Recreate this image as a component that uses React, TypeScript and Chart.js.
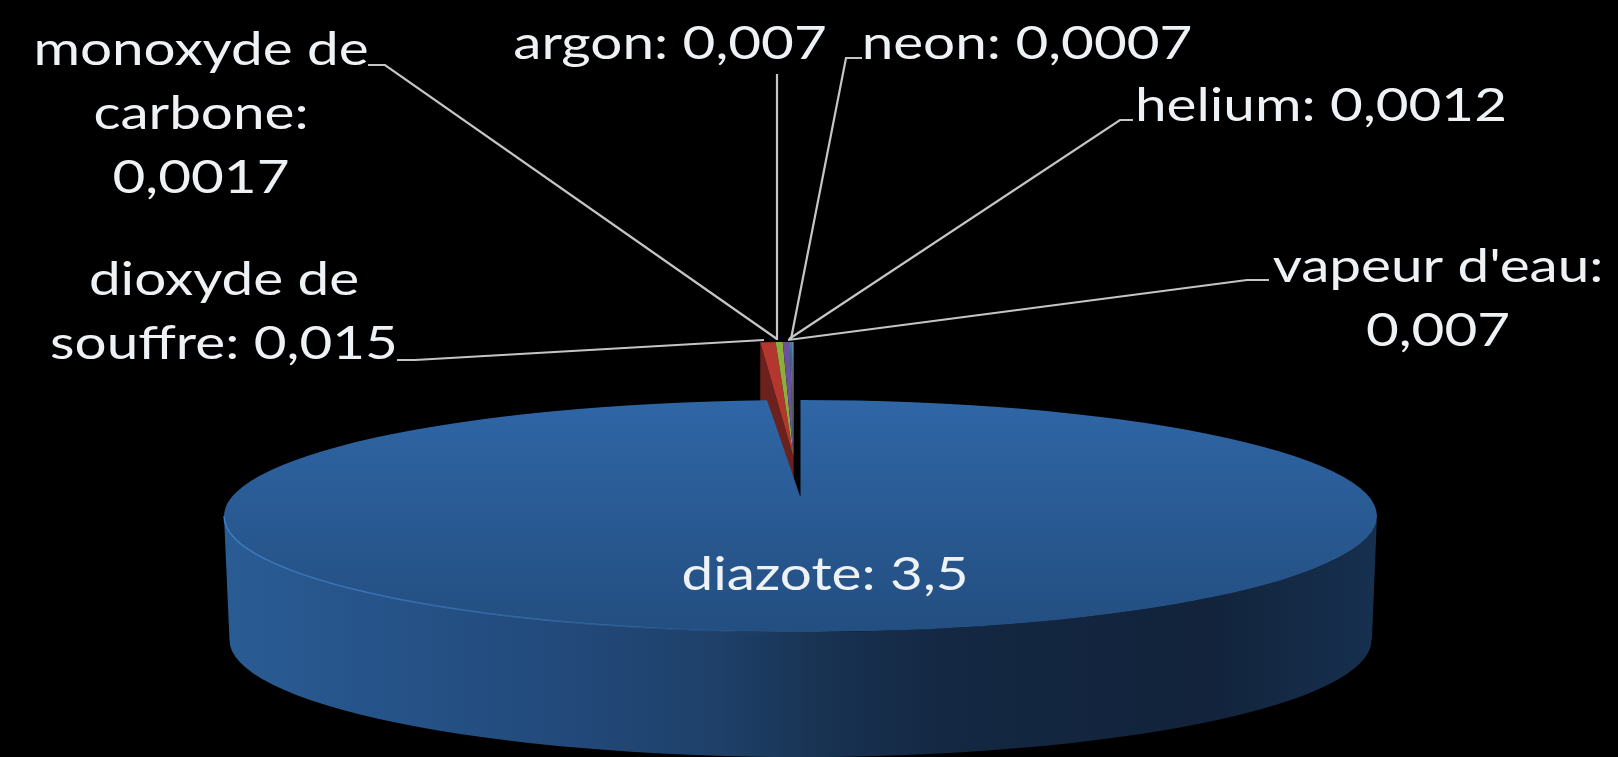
import React, { useEffect, useRef } from "react";
import { Chart, registerables } from "chart.js";

Chart.register(...registerables);

const categories = ["diazote", "dioxyde de souffre", "argon", "vapeur d'eau", "helium", "neon", "monoxyde de carbone"];
const values = [3.5, 0.015, 0.007, 0.007, 0.0012, 0.0007, 0.0017];
const sliceColors = ["#2b5f9c", "#b3362f", "#8cae3a", "#6c4f9e", "#3c8fa8", "#b87a38", "#5f86ad"];
const labelLines = [
  ["diazote: 3,5"],
  ["dioxyde de", "souffre: 0,015"],
  ["argon: 0,007"],
  ["vapeur d'eau:", "0,007"],
  ["helium: 0,0012"],
  ["neon: 0,0007"],
  ["monoxyde de", "carbone:", "0,0017"],
];
// label anchor: centre x and first baseline y
const labelAnchors = [
  [825, 590],
  [224, 295],
  [670, 59],
  [1438, 282],
  [1321, 121],
  [1027, 59],
  [201, 65],
];
const leaders = [
  null,
  [[397, 360], [415, 360], [764, 340]],
  [[777, 74], [777, 340]],
  [[1269, 280], [1247, 280], [788, 340]],
  [[1133, 120], [1120, 120], [789, 339]],
  [[862, 58], [846, 58], [791, 339]],
  [[368, 65], [385, 65], [777, 339]],
];

const CX = 800.5, CY = 516, RX = 576.5, RY = 116, DEPTH = 125;
const W = 1618, H = 757;
const EXPLODE = 0.5;
const TIP = [800, 496];
const SHIFT_X = 1.5;
const TEXT_STRETCH = 1.23;

const pie3d = {
  id: "pie3d",
  beforeDatasetsDraw(chart: any) {
    const ctx = chart.ctx;
    const els = chart.getDatasetMeta(0).data;
    const blue = els[0];
    const R = blue.outerRadius;
    const sx = RX / R, sy = RY / R;
    const toScreen = (a: number, f: number, sh = 0) => [
      CX + Math.cos(a) * f * RX + (sh ? Math.cos(sh) * EXPLODE * RX + SHIFT_X : 0),
      CY + Math.sin(a) * f * RY + (sh ? Math.sin(sh) * EXPLODE * RY : 0),
    ];
    const transform = (dx = 0, dy = 0) => {
      ctx.translate(CX, CY);
      ctx.scale(sx, sy);
      ctx.translate(-blue.x + dx, -blue.y + dy);
    };

    // outer wall
    ctx.save();
    const wall = ctx.createLinearGradient(224, 0, 1377, 0);
    wall.addColorStop(0, "#2a5c94");
    wall.addColorStop(0.12, "#26548a");
    wall.addColorStop(0.3, "#22497a");
    wall.addColorStop(0.43, "#1e4069");
    wall.addColorStop(0.52, "#183252");
    wall.addColorStop(0.62, "#142843");
    wall.addColorStop(0.85, "#12233b");
    wall.addColorStop(1, "#16304f");
    ctx.fillStyle = wall;
    ctx.beginPath();
    ctx.ellipse(CX, CY, RX, RY, 0, Math.PI, 0, true);
    ctx.lineTo(CX + RX - 5, CY + DEPTH - 4);
    ctx.ellipse(CX, CY + 124, RX - 5.5, 117, 0, 0, Math.PI);
    ctx.closePath();
    ctx.fill();
    ctx.restore();

    // exploded small slices
    const first = els[1], last = els[els.length - 1];
    const mid = (first.startAngle + last.endAngle) / 2;
    const P = toScreen(first.startAngle, 1, mid);
    const A = toScreen(0, 0, mid);
    ctx.fillStyle = "#6b211d";
    ctx.beginPath();
    ctx.moveTo(P[0], P[1]);
    ctx.lineTo(P[0], P[1] + DEPTH);
    ctx.lineTo(A[0], A[1] + DEPTH);
    ctx.lineTo(A[0], A[1]);
    ctx.closePath();
    ctx.fill();
    for (let i = 1; i < els.length; i++) {
      ctx.save();
      ctx.translate(SHIFT_X, 0);
      transform(Math.cos(mid) * EXPLODE * R, Math.sin(mid) * EXPLODE * R);
      els[i].draw(ctx);
      ctx.restore();
    }

    // main slice
    ctx.save();
    transform();
    blue.draw(ctx);
    ctx.restore();

    // the perspective centre of the disc sits above the ellipse centre
    const E = toScreen(blue.endAngle, 1);
    const grad = ctx.createLinearGradient(0, CY - RY, 0, CY + RY);
    grad.addColorStop(0, "#2f66a6");
    grad.addColorStop(1, "#234e80");
    ctx.fillStyle = grad;
    ctx.beginPath();
    ctx.moveTo(E[0], E[1]);
    ctx.lineTo(TIP[0], TIP[1]);
    ctx.lineTo(CX + 2, TIP[1]);
    ctx.lineTo(CX + 2, CY + 3);
    ctx.lineTo(CX - 2, CY + 3);
    ctx.closePath();
    ctx.fill();

    // rim highlight
    const rim = ctx.createLinearGradient(224, 0, 800, 0);
    rim.addColorStop(0, "rgba(66,128,200,0.9)");
    rim.addColorStop(0.6, "rgba(66,128,200,0.55)");
    rim.addColorStop(1, "rgba(66,128,200,0)");
    ctx.strokeStyle = rim;
    ctx.lineWidth = 1.5;
    ctx.beginPath();
    ctx.ellipse(CX, CY, RX, RY, 0, Math.PI, Math.PI / 2, true);
    ctx.stroke();
    return false;
  },
  afterDraw(chart: any) {
    const ctx = chart.ctx;
    ctx.save();
    ctx.strokeStyle = "#c4c6c6";
    ctx.lineWidth = 2.2;
    leaders.forEach((pts) => {
      if (!pts) return;
      ctx.beginPath();
      pts.forEach((p, i) => (i ? ctx.lineTo(p[0], p[1]) : ctx.moveTo(p[0], p[1])));
      ctx.stroke();
    });
    ctx.fillStyle = "#eef2f4";
    ctx.font = "46px Lato";
    ctx.textAlign = "center";
    ctx.textBaseline = "alphabetic";
    labelLines.forEach((lines, i) => {
      const [x, y] = labelAnchors[i];
      lines.forEach((t, j) => {
        ctx.save();
        ctx.translate(x, y + j * 64);
        ctx.scale(TEXT_STRETCH, 1);
        ctx.fillText(t, 0, 0);
        ctx.restore();
      });
    });
    ctx.restore();
  },
};

export default function App() {
  const ref = useRef<HTMLCanvasElement>(null);
  useEffect(() => {
    document.body.style.margin = "0";
    document.body.style.background = "#000";
    const canvas = ref.current!;
    const c2d = canvas.getContext("2d")!;
    const topGrad = c2d.createLinearGradient(0, 0, 0, H);
    topGrad.addColorStop(0, "#2f66a6");
    topGrad.addColorStop(1, "#234e80");
    const chart = new Chart(canvas, {
      type: "pie",
      data: {
        labels: categories,
        datasets: [
          {
            data: values,
            backgroundColor: sliceColors.map((c, i) => (i === 0 ? topGrad : c)),
            borderWidth: 0,
          },
        ],
      },
      options: {
        responsive: false,
        animation: false,
        layout: { padding: 0 },
        plugins: { legend: { display: false }, tooltip: { enabled: false }, title: { display: false } },
      },
      plugins: [pie3d as any],
    });
    return () => chart.destroy();
  }, []);
  return (
    <canvas ref={ref} width={W} height={H} style={{ display: "block", width: W, height: H, background: "#000" }} />
  );
}
